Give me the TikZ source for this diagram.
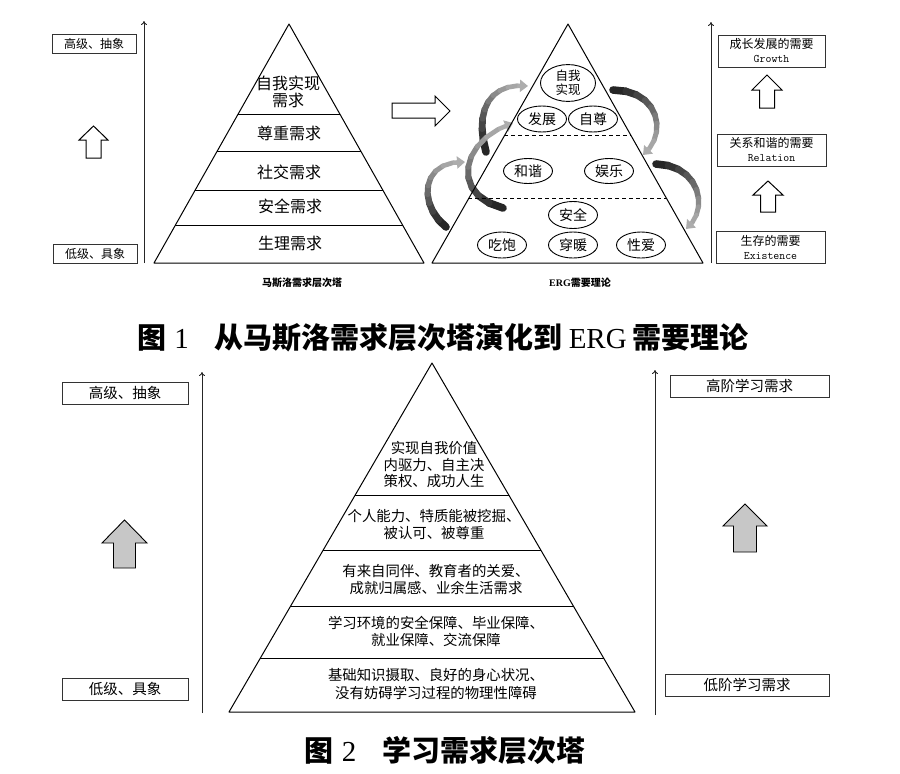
\documentclass[tikz,border=0pt]{standalone}
\usepackage{fontspec}
\setmainfont{Liberation Serif}
\newfontfamily\cjk{Noto Sans CJK SC}
\usetikzlibrary{arrows.meta,shapes.geometric,calc}

\newcommand\ergribbon[4]{%
  \path #1 .. controls #2 and #3 .. #4
    coordinate[pos=0] (rb0) coordinate[pos=0.1] (rb1) coordinate[pos=0.2] (rb2)
    coordinate[pos=0.3] (rb3) coordinate[pos=0.4] (rb4) coordinate[pos=0.5] (rb5)
    coordinate[pos=0.6] (rb6) coordinate[pos=0.7] (rb7) coordinate[pos=0.8] (rb8)
    coordinate[pos=0.9] (rb9) coordinate[pos=1] (rb10);
  \foreach \i/\j/\c/\w in {0/1/85/7.6,1/2/80/7.2,2/3/73/6.8,3/4/66/6.4,4/5/59/6,5/6/52/5.6,6/7/46/5.3,7/8/40/5,8/9/35/4.7}
    {\draw[line width=\w pt, draw=black!\c, line cap=round] (rb\i) -- (rb\j);}
  \draw[line width=4.5pt, draw=black!32, -{Triangle[width=12pt,length=8pt]}] (rb9) -- (rb10);
}
\newcommand\upblock[7]{% cx, tip, base, bottom, headhalf, shafthalf, style
  \draw[#7] (#1,#2) -- ({#1+#5},#3) -- ({#1+#6},#3) -- ({#1+#6},#4) -- ({#1-#6},#4)
    -- ({#1-#6},#3) -- ({#1-#5},#3) -- cycle;
}

\begin{document}
\begin{tikzpicture}[x=1pt,y=-1pt,
  box/.style={draw=black!80, line width=0.8pt, rectangle, inner sep=0pt, align=center},
  smallbox/.style={box, font=\cjk\fontsize{12}{13}\selectfont},
  ergbox/.style={box, font=\cjk\fontsize{12}{15}\selectfont},
  bigbox/.style={box, font=\cjk\fontsize{14.5}{16}\selectfont},
  axis/.style={draw=black!85, line width=0.9pt, -{To[length=4pt,width=6pt]}},
  pyr/.style={draw=black, line width=1pt, line join=round},
  hollow/.style={draw=black, line width=1pt, fill=white, line join=miter},
  grayarrow/.style={draw=black, line width=0.9pt, fill=black!22},
  ell/.style={ellipse, draw, line width=0.9pt, inner sep=0pt, fill=white, minimum width=49pt, minimum height=26pt, font=\cjk\fontsize{14}{15}\selectfont},
  ptext/.style={align=center, font=\cjk\fontsize{16}{17}\selectfont},
  qtext/.style={align=center, font=\cjk\fontsize{14.4}{17.5}\selectfont},
  capsmall/.style={font=\cjk\bfseries\fontsize{10}{11}\selectfont},
  title/.style={font=\fontsize{29}{31}\selectfont}]
\useasboundingbox (0,0) rectangle (900,774);
\fill[white] (0,0) rectangle (900,774);

%% ================= Figure 1, left part =================
\node[smallbox, minimum width=84pt, minimum height=19pt] (hi1) at (94,43.5) {高级、抽象};
\node[smallbox, minimum width=84pt, minimum height=19pt] (lo1) at (95,253.5) {低级、具象};
\coordinate (ax1b) at (144,263); \coordinate (ax1t) at (144,21);
\draw[axis] (ax1b) -- (ax1t);
\upblock{93.5}{126}{140}{158}{14.5}{7.5}{hollow}

% Maslow pyramid
\coordinate (P1a) at (289,24); \coordinate (P1l) at (154,263); \coordinate (P1r) at (424,263);
\draw[pyr] (P1a) -- (P1l) -- (P1r) -- cycle;
\foreach \t in {0.3766,0.5314,0.6946,0.8410}
  \draw[pyr] ($(P1a)!\t!(P1l)$) -- ($(P1a)!\t!(P1r)$);
\node[ptext] (m1) at (288,91.5) {自我实现\\需求};
\node[ptext] (m2) at (289,133) {尊重需求};
\node[ptext] (m3) at (289,172) {社交需求};
\node[ptext] (m4) at (290,206) {安全需求};
\node[ptext] (m5) at (290,243) {生理需求};
\node[capsmall] (cap1) at (302,283) {马斯洛需求层次塔};

% big hollow right arrow
\draw[hollow] (392,103) -- (435,103) -- (435,96) -- (450,111) -- (435,126) -- (435,118) -- (392,118) -- cycle;

%% ================= Figure 1, ERG pyramid =================
\ergribbon{(486,152)}{(474,110)}{(490,82)}{(528,86)}
\ergribbon{(503,208)}{(450,195)}{(460,140)}{(513,123)}
\ergribbon{(446,227)}{(418,205)}{(420,160)}{(465,162)}
\ergribbon{(613,90)}{(660,90)}{(668,135)}{(643,155)}
\ergribbon{(656,164)}{(700,165)}{(710,210)}{(686,229)}

\coordinate (P2a) at (568,24); \coordinate (P2l) at (432,263); \coordinate (P2r) at (703,263);
\draw[pyr] (P2a) -- (P2l) -- (P2r) -- cycle;
\foreach \t in {0.4686,0.7322}
  \draw[pyr, dashed, dash pattern=on 4pt off 3pt] ($(P2a)!\t!(P2l)$) -- ($(P2a)!\t!(P2r)$);
\node[ell, minimum width=55pt, minimum height=29pt, align=center, font=\cjk\fontsize{12.5}{14.5}\selectfont] (e1) at (568,83) {自我\\实现};
\node[ell] (e2) at (542,119) {发展};
\node[ell] (e3) at (593,119) {自尊};
\node[ell, minimum height=25pt] (e4) at (528,171) {和谐};
\node[ell, minimum height=25pt] (e5) at (609,171) {娱乐};
\node[ell, minimum height=27pt] (e6) at (573,215) {安全};
\node[ell] (e7) at (502,245) {吃饱};
\node[ell] (e8) at (573,245) {穿暖};
\node[ell] (e9) at (641,245) {性爱};
\node[font=\bfseries\fontsize{10}{11}\selectfont] (cap2) at (580,283) {ERG{\cjk 需要理论}};

%% ================= Figure 1, right part =================
\coordinate (ax2b) at (711,263); \coordinate (ax2t) at (711,22);
\draw[axis] (ax2b) -- (ax2t);
\node[ergbox, minimum width=107pt, minimum height=32pt] (g) at (771.5,51) {成长发展的需要\\[-1pt]{\ttfamily\fontsize{11.5}{12}\selectfont Growth}};
\node[ergbox, minimum width=109pt, minimum height=32pt] (r) at (771.5,150) {关系和谐的需要\\[-1pt]{\ttfamily\fontsize{11.5}{12}\selectfont Relation}};
\node[ergbox, minimum width=109pt, minimum height=32pt] (x) at (770.5,247) {生存的需要\\[-1pt]{\ttfamily\fontsize{11.5}{12}\selectfont Existence}};
\upblock{767}{75}{90}{108}{15}{7.5}{hollow}
\upblock{768}{181}{195}{212}{15}{7.5}{hollow}

\node[title] (t1) at (443,338) {{\cjk\bfseries 图}\hspace{8pt}1\hspace{26pt}{\cjk\bfseries 从马斯洛需求层次塔演化到}\hspace{6pt}ERG\hspace{6pt}{\cjk\bfseries 需要理论}};

%% ================= Figure 2 =================
\node[bigbox, minimum width=126pt, minimum height=22pt] (hi2) at (125,393) {高级、抽象};
\node[bigbox, minimum width=126pt, minimum height=22pt] (lo2) at (125,689) {低级、具象};
\coordinate (ax3b) at (202,713); \coordinate (ax3t) at (202,372);
\draw[axis] (ax3b) -- (ax3t);
\upblock{124.5}{520}{543}{568}{22.5}{11}{grayarrow}

\coordinate (P3a) at (432,363); \coordinate (P3l) at (229,712); \coordinate (P3r) at (635,712);
\draw[pyr] (P3a) -- (P3l) -- (P3r) -- cycle;
\foreach \t in {0.3782,0.5358,0.6963,0.8481}
  \draw[pyr] ($(P3a)!\t!(P3l)$) -- ($(P3a)!\t!(P3r)$);
\node[qtext, font=\cjk\fontsize{14.4}{16.5}\selectfont] (q1) at (434,465) {实现自我价值\\内驱力、自主决\\策权、成功人生};
\node[qtext] (q2) at (434,524.5) {个人能力、特质能被挖掘、\\被认可、被尊重};
\node[qtext] (q3) at (436,579.5) {有来自同伴、教育者的关爱、\\成就归属感、业余生活需求};
\node[qtext] (q4) at (436,631.5) {学习环境的安全保障、毕业保障、\\就业保障、交流保障};
\node[qtext] (q5) at (436,684) {基础知识摄取、良好的身心状况、\\没有妨碍学习过程的物理性障碍};

\coordinate (ax4b) at (655,715); \coordinate (ax4t) at (655,370);
\draw[axis] (ax4b) -- (ax4t);
\node[bigbox, minimum width=159pt, minimum height=22pt] (hh2) at (749.5,386) {高阶学习需求};
\node[bigbox, minimum width=164pt, minimum height=22pt] (lh2) at (747,685) {低阶学习需求};
\upblock{745}{504}{526}{552}{22}{11.5}{grayarrow}

\node[title] (t2) at (445,750) {{\cjk\bfseries 图}\hspace{8pt}2\hspace{26pt}{\cjk\bfseries 学习需求层次塔}};
\end{tikzpicture}
\end{document}
